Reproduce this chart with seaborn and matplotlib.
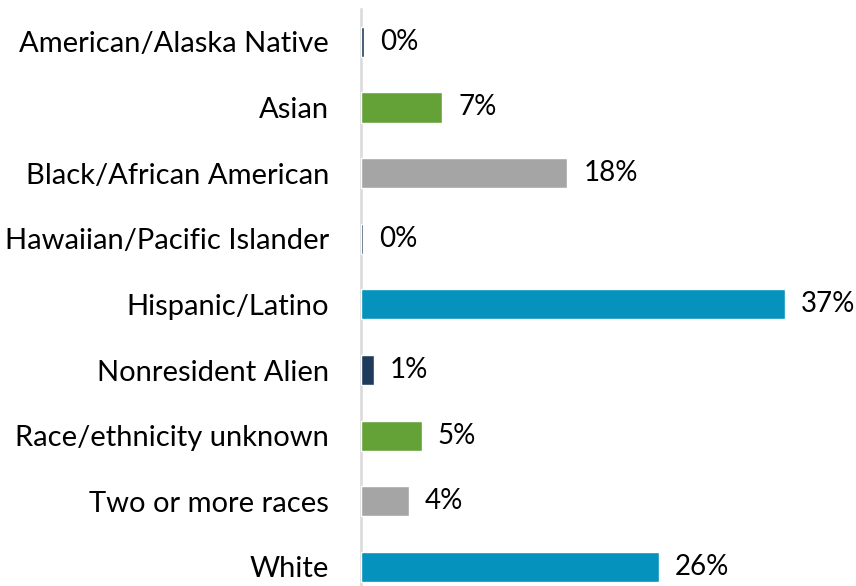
import matplotlib
matplotlib.use("Agg")
import matplotlib.pyplot as plt
import seaborn as sns
import pandas as pd

categories = ["American/Alaska Native", "Asian", "Black/African American",
              "Hawaiian/Pacific Islander", "Hispanic/Latino", "Nonresident Alien",
              "Race/ethnicity unknown", "Two or more races", "White"]
values = [0.3, 7.1, 18.0, 0.15, 37.0, 1.1, 5.3, 4.2, 26.0]
labels = ["0%", "7%", "18%", "0%", "37%", "1%", "5%", "4%", "26%"]
colors = ["#1F3B5C", "#64A137", "#A5A5A5", "#1F3B5C", "#0593BE",
          "#1F3B5C", "#64A137", "#A5A5A5", "#0593BE"]

df = pd.DataFrame({"cat": categories, "val": values})

sns.set_style("white")
plt.rcParams['font.family'] = ['Lato', 'DejaVu Sans']

W, H = 856, 586
fig = plt.figure(figsize=(W / 100, H / 100), dpi=100)
ax = fig.add_axes([361 / W, 0, (W - 361) / W, 1 - 9 / H])

sns.barplot(data=df, y="cat", x="val", hue="cat", palette=colors, legend=False,
            orient="h", width=0.46, ax=ax, saturation=1, zorder=3)

ax.set_xlim(0, (W - 361) / 11.46)
ax.set_ylim(8.29, -0.5)

# value labels just right of each bar
for i, (v, t) in enumerate(zip(values, labels)):
    ax.annotate(t, (v, i), xytext=(11.5, 0), textcoords="offset points",
                ha="left", va="center", fontsize=20, color="black")

for s in ["top", "right", "bottom"]:
    ax.spines[s].set_visible(False)
ax.spines["left"].set_color("#D9D9D9")
ax.spines["left"].set_linewidth(1.8)
ax.spines["left"].set_zorder(0)
ax.set_xticks([])
ax.set_xlabel("")
ax.set_ylabel("")
ax.tick_params(axis="y", length=0, pad=23, labelsize=21, labelcolor="black")

plt.savefig("out.png", dpi=100)
